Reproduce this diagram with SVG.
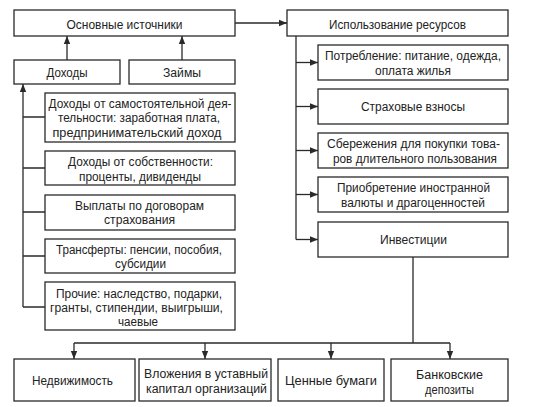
<svg xmlns="http://www.w3.org/2000/svg" width="533" height="407" viewBox="0 0 533 407">
<style>
.box{fill:#fff;stroke:#2a2a2a;stroke-width:1.3}
.t{font-family:"Liberation Sans",Arial,sans-serif;font-size:12.5px;fill:#222;text-anchor:middle}
.c{fill:none;stroke:#2a2a2a;stroke-width:1.3}
</style>
<defs>
<marker id="ah" viewBox="0 0 10 10" refX="10" refY="5" markerWidth="8" markerHeight="8" markerUnits="userSpaceOnUse" orient="auto">
<path d="M0,1 L10,5 L0,9 Z" fill="#2a2a2a"/>
</marker>
</defs>
<rect width="533" height="407" fill="#fff"/>
<g id="connectors">
<path class="c" d="M235,23 H287" marker-end="url(#ah)"/>
<path class="c" d="M67,60 V36" marker-end="url(#ah)"/>
<path class="c" d="M182,60 V36" marker-end="url(#ah)"/>
<path class="c" d="M23,307 V84" marker-end="url(#ah)"/>
<path class="c" d="M23,117 H45 M23,168 H45 M23,212 H45 M23,256 H45 M23,307 H45"/>
<path class="c" d="M296,36 V239.5"/>
<path class="c" d="M296,62.5 H318" marker-end="url(#ah)"/>
<path class="c" d="M296,106.5 H318" marker-end="url(#ah)"/>
<path class="c" d="M296,150.5 H318" marker-end="url(#ah)"/>
<path class="c" d="M296,194.5 H318" marker-end="url(#ah)"/>
<path class="c" d="M296,239.5 H318" marker-end="url(#ah)"/>
<path class="c" d="M413,257 V343 M74,343 H450"/>
<path class="c" d="M74,343 V359" marker-end="url(#ah)"/>
<path class="c" d="M205,343 V359" marker-end="url(#ah)"/>
<path class="c" d="M331,343 V359" marker-end="url(#ah)"/>
<path class="c" d="M450,343 V359" marker-end="url(#ah)"/>
</g>
<g id="main-sources"><rect class="box" x="14" y="10" width="221" height="26"/><text class="t" x="124.5" y="28.5" textLength="116" lengthAdjust="spacingAndGlyphs">Основные источники</text></g>
<g id="usage"><rect class="box" x="287" y="10" width="221" height="26"/><text class="t" x="397.5" y="28.5" textLength="137" lengthAdjust="spacingAndGlyphs">Использование ресурсов</text></g>
<g id="income"><rect class="box" x="14" y="60" width="106" height="24"/><text class="t" x="67" y="77" textLength="41" lengthAdjust="spacingAndGlyphs">Доходы</text></g>
<g id="loans"><rect class="box" x="129" y="60" width="106" height="24"/><text class="t" x="182" y="77" textLength="38" lengthAdjust="spacingAndGlyphs">Займы</text></g>
<g id="self-employment"><rect class="box" x="45" y="93" width="190" height="49"/>
<text class="t" x="140" y="107.5" textLength="183" lengthAdjust="spacingAndGlyphs">Доходы от самостоятельной дея-</text>
<text class="t" x="139" y="122" textLength="162" lengthAdjust="spacingAndGlyphs">тельности: заработная плата,</text>
<text class="t" x="137" y="136.5" textLength="169" lengthAdjust="spacingAndGlyphs">предпринимательский доход</text></g>
<g id="property"><rect class="box" x="45" y="151" width="190" height="34"/>
<text class="t" x="140.5" y="166" textLength="145" lengthAdjust="spacingAndGlyphs">Доходы от собственности:</text>
<text class="t" x="140" y="180.5" textLength="122" lengthAdjust="spacingAndGlyphs">проценты, дивиденды</text></g>
<g id="insurance-pay"><rect class="box" x="45" y="195" width="190" height="35"/>
<text class="t" x="139.5" y="210" textLength="129" lengthAdjust="spacingAndGlyphs">Выплаты по договорам</text>
<text class="t" x="139.5" y="224" textLength="71" lengthAdjust="spacingAndGlyphs">страхования</text></g>
<g id="transfers"><rect class="box" x="45" y="239" width="190" height="34"/>
<text class="t" x="139" y="253.5" textLength="166" lengthAdjust="spacingAndGlyphs">Трансферты: пенсии, пособия,</text>
<text class="t" x="140.5" y="268" textLength="51" lengthAdjust="spacingAndGlyphs">субсидии</text></g>
<g id="other"><rect class="box" x="45" y="282" width="190" height="48"/>
<text class="t" x="139" y="297.5" textLength="166" lengthAdjust="spacingAndGlyphs">Прочие: наследство, подарки,</text>
<text class="t" x="136.5" y="312" textLength="173" lengthAdjust="spacingAndGlyphs">гранты, стипендии, выигрыши,</text>
<text class="t" x="138" y="326" textLength="40" lengthAdjust="spacingAndGlyphs">чаевые</text></g>
<g id="consumption"><rect class="box" x="318" y="45" width="190" height="35"/>
<text class="t" x="413" y="60" textLength="176" lengthAdjust="spacingAndGlyphs">Потребление: питание, одежда,</text>
<text class="t" x="413" y="74.5" textLength="76" lengthAdjust="spacingAndGlyphs">оплата жилья</text></g>
<g id="insurance-fees"><rect class="box" x="318" y="89" width="190" height="35"/>
<text class="t" x="413" y="111" textLength="104" lengthAdjust="spacingAndGlyphs">Страховые взносы</text></g>
<g id="savings"><rect class="box" x="318" y="133" width="190" height="35"/>
<text class="t" x="413.5" y="148" textLength="173" lengthAdjust="spacingAndGlyphs">Сбережения для покупки това-</text>
<text class="t" x="415" y="162.5" textLength="164" lengthAdjust="spacingAndGlyphs">ров длительного пользования</text></g>
<g id="currency"><rect class="box" x="318" y="177" width="190" height="35"/>
<text class="t" x="413.5" y="192" textLength="153" lengthAdjust="spacingAndGlyphs">Приобретение иностранной</text>
<text class="t" x="413" y="206.5" textLength="144" lengthAdjust="spacingAndGlyphs">валюты и драгоценностей</text></g>
<g id="investments"><rect class="box" x="318" y="222" width="190" height="35"/>
<text class="t" x="413.5" y="244" textLength="67" lengthAdjust="spacingAndGlyphs">Инвестиции</text></g>
<g id="real-estate"><rect class="box" x="14" y="359" width="121" height="42"/>
<text class="t" x="72.5" y="385" textLength="81" lengthAdjust="spacingAndGlyphs">Недвижимость</text></g>
<g id="capital"><rect class="box" x="139" y="359" width="132" height="42"/>
<text class="t" x="206" y="378" textLength="124" lengthAdjust="spacingAndGlyphs">Вложения в уставный</text>
<text class="t" x="206.5" y="392.5" textLength="121" lengthAdjust="spacingAndGlyphs">капитал организаций</text></g>
<g id="securities"><rect class="box" x="278" y="359" width="106" height="42"/>
<text class="t" x="331" y="385" textLength="92" lengthAdjust="spacingAndGlyphs">Ценные бумаги</text></g>
<g id="deposits"><rect class="box" x="391" y="359" width="117" height="42"/>
<text class="t" x="449.5" y="379" textLength="67" lengthAdjust="spacingAndGlyphs">Банковские</text>
<text class="t" x="449.5" y="393.5" textLength="49" lengthAdjust="spacingAndGlyphs">депозиты</text></g>
</svg>
